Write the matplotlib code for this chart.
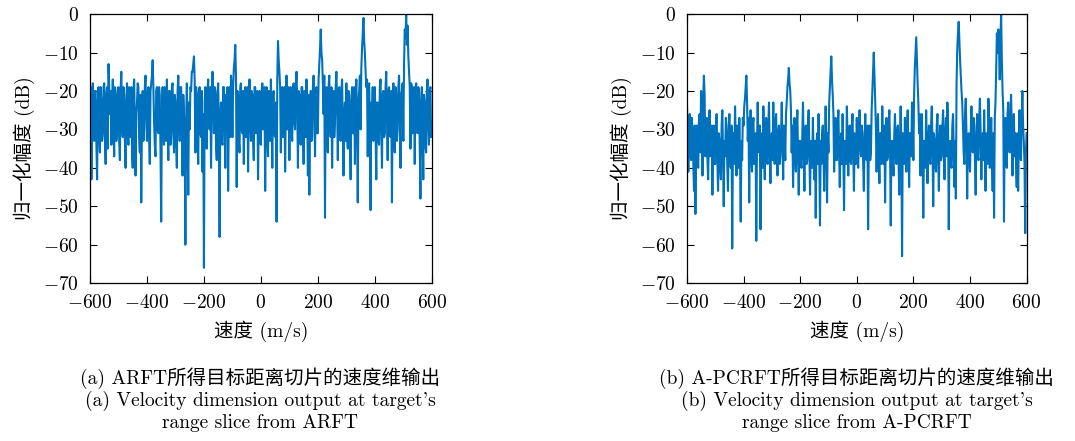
import matplotlib
matplotlib.use("Agg")
import matplotlib.pyplot as plt
import numpy as np
from matplotlib.ticker import FuncFormatter

plt.rcParams['font.family'] = ['cmr10', 'Noto Sans CJK SC']
plt.rcParams['mathtext.fontset'] = 'cm'
plt.rcParams['axes.unicode_minus'] = False

LINE_COLOR = '#0072BD'

# normalised amplitude (dB), ARFT, one sample every 2.5 m/s from -600 to 600
arft_db = [
    -30, -19, -43, -26, -18, -31, -33, -20, -20, -34, -43, -23, -19, -32, -36, -19, -23, -33, -31, -19,
    -18, -32, -39, -21, -19, -35, -13, -19, -26, -20, -34, -28, -17, -30, -37, -19, -20, -33, -30, -21,
    -19, -33, -38, -20, -15, -28, -32, -19, -21, -33, -40, -23, -18, -31, -34, -19, -26, -32, -19, -35,
    -40, -20, -17, -30, -42, -26, -23, -18, -19, -32, -36, -21, -49, -28, -20, -33, -30, -19, -16, -26,
    -33, -21, -19, -32, -39, -20, -18, -16, -12, -19, -28, -34, -37, -20, -19, -30, -31, -19, -21, -35,
    -54, -26, -19, -31, -34, -19, -23, -33, -17, -28, -38, -20, -20, -34, -32, -19, -18, -30, -36, -21,
    -23, -34, -40, -20, -16, -26, -33, -19, -19, -32, -42, -21, -26, -35, -60, -28, -18, -31, -47, -23,
    -30, -19, -20, -15, -15, -13, -11, -17, -36, -19, -21, -33, -39, -20, -19, -31, -32, -20, -41, -26,
    -66, -23, -19, -33, -35, -20, -17, -28, -30, -19, -40, -23, -15, -21, -31, -19, -20, -34, -38, -21,
    -18, -31, -58, -26, -23, -33, -34, -19, -19, -30, -40, -21, -28, -19, -46, -23, -19, -32, -16, -20,
    -32, -19, -14, -12, -8, -16, -45, -20, -21, -33, -36, -19, -18, -30, -31, -20, -39, -23, -19, -32,
    -26, -19, -41, -23, -17, -28, -33, -20, -21, -32, -38, -19, -19, -31, -30, -20, -43, -26, -20, -33,
    -34, -20, -18, -30, -28, -19, -46, -26, -19, -32, -37, -20, -23, -33, -17, -26, -40, -21, -20, -31,
    -32, -23, -54, -17, -7, -12, -15, -19, -36, -20, -19, -32, -31, -19, -41, -23, -16, -30, -26, -19,
    -38, -21, -19, -31, -33, -20, -18, -28, -30, -19, -15, -23, -40, -20, -21, -33, -34, -19, -19, -30,
    -39, -20, -23, -32, -17, -26, -42, -21, -47, -28, -20, -33, -32, -19, -16, -23, -37, -20, -19, -31,
    -31, -17, -13, -9, -4, -10, -12, -18, -26, -16, -53, -20, -19, -31, -36, -19, -16, -28, -32, -19,
    -40, -21, -20, -32, -28, -19, -15, -23, -38, -20, -19, -31, -33, -20, -17, -30, -42, -26, -23, -33,
    -18, -30, -35, -20, -21, -33, -43, -23, -19, -31, -31, -19, -39, -21, -17, -28, -49, -23, -20, -16,
    -30, -14, -9, -5, -1, -7, -10, -15, -19, -17, -37, -20, -18, -30, -51, -23, -26, -19, -33, -21,
    -19, -32, -43, -23, -23, -33, -34, -19, -17, -28, -40, -21, -20, -32, -31, -19, -15, -26, -38, -20,
    -19, -31, -32, -20, -49, -23, -18, -30, -36, -19, -21, -33, -30, -19, -16, -26, -40, -21, -20, -18,
    -33, -13, -4, -6, 0, -8, -3, -11, -15, -19, -35, -18, -19, -31, -28, -19, -39, -21, -18, -30,
    -31, -19, -20, -33, -48, -23, -19, -32, -43, -21, -23, -34, -36, -20, -17, -28, -34, -20, -19, -32,
    -28,
]

# normalised amplitude (dB), A-PCRFT, same velocity grid
apcrft_db = [
    -23, -31, -41, -27, -26, -37, -38, -27, -31, -39, -46, -29, -52, -33, -29, -38, -40, -27, -26, -36,
    -20, -26, -42, -22, -16, -21, -37, -29, -27, -38, -43, -31, -25, -37, -36, -29, -47, -33, -29, -39,
    -39, -29, -26, -38, -46, -31, -33, -40, -43, -29, -25, -36, -50, -33, -37, -27, -29, -39, -46, -31,
    -26, -37, -40, -29, -61, -34, -31, -39, -24, -33, -42, -29, -36, -40, -27, -37, -54, -33, -38, -27,
    -29, -24, -22, -19, -16, -23, -33, -27, -49, -31, -25, -37, -41, -29, -27, -39, -38, -31, -59, -34,
    -23, -33, -36, -29, -56, -36, -31, -40, -24, -34, -43, -31, -27, -38, -39, -29, -23, -36, -44, -33,
    -31, -38, -23, -33, -39, -29, -26, -37, -42, -31, -29, -39, -37, -31, -23, -34, -43, -29, -33, -38,
    -26, -23, -19, -17, -14, -18, -20, -25, -36, -29, -45, -33, -27, -38, -41, -31, -25, -36, -47, -33,
    -33, -39, -40, -31, -23, -34, -46, -31, -29, -39, -38, -29, -25, -36, -47, -33, -36, -40, -27, -37,
    -43, -33, -53, -34, -31, -39, -26, -36, -55, -33, -39, -31, -29, -38, -46, -33, -24, -34, -49, -31,
    -36, -23, -19, -15, -11, -17, -21, -26, -41, -31, -27, -38, -38, -29, -25, -36, -45, -33, -31, -39,
    -26, -37, -51, -33, -34, -39, -24, -33, -42, -31, -29, -38, -39, -29, -26, -36, -46, -31, -33, -39,
    -27, -36, -40, -31, -25, -34, -37, -29, -31, -39, -46, -33, -26, -36, -38, -29, -56, -34, -29, -38,
    -36, -25, -20, -15, -10, -16, -23, -29, -41, -31, -26, -37, -44, -31, -31, -39, -24, -33, -39, -29,
    -49, -33, -27, -38, -37, -29, -25, -34, -55, -33, -33, -39, -42, -31, -26, -37, -39, -31, -29, -38,
    -47, -33, -24, -34, -63, -31, -34, -39, -27, -36, -41, -29, -25, -36, -45, -31, -31, -37, -23, -29,
    -38, -21, -14, -10, -6, -12, -18, -23, -31, -26, -42, -31, -26, -37, -53, -33, -36, -40, -25, -34,
    -44, -33, -29, -38, -39, -29, -24, -34, -50, -31, -33, -39, -41, -29, -26, -37, -46, -33, -29, -38,
    -37, -29, -25, -36, -43, -31, -27, -37, -23, -29, -56, -34, -33, -39, -40, -29, -26, -36, -45, -33,
    -48, -18, -9, -5, -2, -7, -12, -16, -20, -23, -29, -36, -39, -26, -22, -31, -48, -33, -31, -38,
    -41, -31, -24, -34, -36, -27, -29, -38, -47, -33, -26, -37, -38, -27, -22, -31, -43, -33, -31, -38,
    -25, -36, -46, -31, -33, -39, -22, -29, -40, -33, -27, -38, -46, -31, -53, -27, -23, -14, -5, -10,
    -4, -9, -17, -6, 0, -12, -20, -25, -54, -29, -27, -37, -40, -26, -23, -33, -36, -26, -21, -29,
    -42, -31, -26, -37, -31, -39, -45, -31, -46, -33, -25, -36, -38, -27, -20, -29, -33, -39, -57, -36,
    -31,
]

x_ticks = [-600, -400, -200, 0, 200, 400, 600]
y_ticks = [0, -10, -20, -30, -40, -50, -60, -70]

captions = [
    ["(a) ARFT所得目标距离切片的速度维输出",
     "(a) Velocity dimension output at target's",
     "range slice from ARFT"],
    ["(b) A-PCRFT所得目标距离切片的速度维输出",
     "(b) Velocity dimension output at target's",
     "range slice from A-PCRFT"],
]

fig = plt.figure(figsize=(10.75, 4.41), dpi=100)
ax1 = fig.add_axes([0.0837, 0.358, 0.318, 0.610])
ax2 = fig.add_axes([0.639, 0.358, 0.316, 0.610])

fmt = FuncFormatter(lambda v, p: r'$%d$' % int(round(v)))

for ax, vals in [(ax1, arft_db), (ax2, apcrft_db)]:
    v = np.linspace(-600, 600, len(vals))
    ax.plot(v, vals, color=LINE_COLOR, linewidth=1.5)
    ax.set_xlim(-600, 600)
    ax.set_ylim(-70, 0)
    ax.set_xticks(x_ticks)
    ax.set_yticks(y_ticks)
    ax.xaxis.set_major_formatter(fmt)
    ax.yaxis.set_major_formatter(fmt)
    ax.tick_params(direction='in', top=True, right=True, length=5, width=0.8,
                   labelsize=14, pad=8)
    for s in ax.spines.values():
        s.set_linewidth(0.9)
    ax.set_xlabel('速度 (m/s)', fontsize=14, labelpad=6)
    ax.set_ylabel('归一化幅度 (dB)', fontsize=14, labelpad=6)

for cx, lines in [(0.242, captions[0]), (0.797, captions[1])]:
    for k, t in enumerate(lines):
        fig.text(cx, 1 - (378 + 22.5 * k) / 441, t, ha='center', va='center', fontsize=14)

fig.savefig('out.png', dpi=100)
